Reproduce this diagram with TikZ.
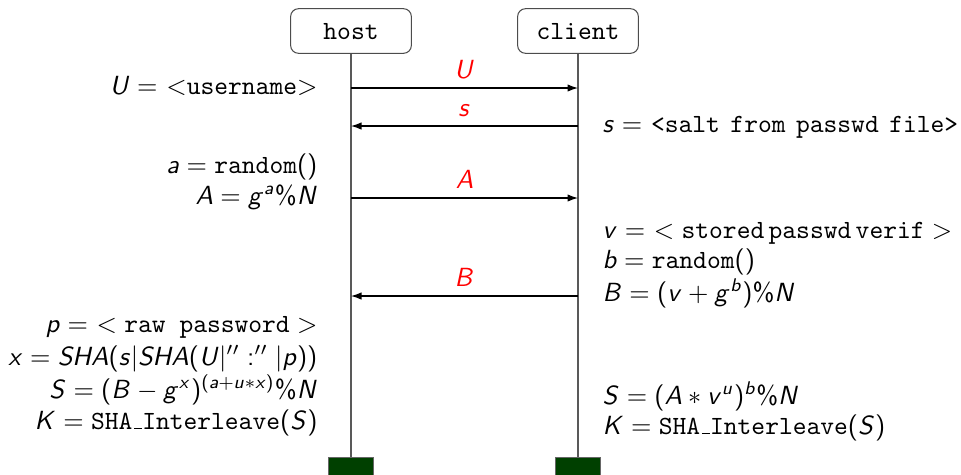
\documentclass[tikz,border=0pt]{standalone}
\usepackage[OT1]{fontenc}
\renewcommand{\ttdefault}{cmtt}
\usetikzlibrary{arrows.meta}

% sans serif math, as in slides
\DeclareSymbolFont{operators}{OT1}{cmss}{m}{n}
\DeclareSymbolFont{sfletters}{OT1}{cmss}{m}{it}
\makeatletter
\def\sfletter#1{\DeclareMathSymbol{#1}{\mathalpha}{sfletters}{`#1}}
\@tfor\next:=abgpsuvxABHKNSU\do{\expandafter\sfletter\expandafter{\next}}
\makeatother

\begin{document}
\begin{tikzpicture}[x=0.381pt, y=-0.381pt,
    actor/.style={draw=black!70, rounded corners=3pt, minimum width=46pt,
      minimum height=17pt, font=\ttfamily},
    lifeend/.style={draw=black!60, fill=green!25!black, minimum width=17.5pt,
      minimum height=8pt, inner sep=0pt},
    lifeline/.style={black!65},
    msg/.style={-{Latex[length=4pt, width=2.8pt]}, black},
    msglabel/.style={midway, above, text=red},
    note/.style={inner sep=0pt}]

  \useasboundingbox (0,0) rectangle (961,474);

  % ────────────────────────────────────────────────────────────────────
  % Actors and lifelines
  % ────────────────────────────────────────────────────────────────────
  \node[actor] (host)   at (351,31) {host};
  \node[actor] (client) at (578,31) {client};

  \node[lifeend, anchor=north] (hostend)   at (351,457) {};
  \node[lifeend, anchor=north] (clientend) at (578,457) {};

  \draw[lifeline] (host)   -- (hostend);
  \draw[lifeline] (client) -- (clientend);

  % ────────────────────────────────────────────────────────────────────
  % Messages
  % ────────────────────────────────────────────────────────────────────
  \coordinate (hU) at (351,88);  \coordinate (cU) at (578,88);
  \coordinate (hs) at (351,126); \coordinate (cs) at (578,126);
  \coordinate (hA) at (351,198); \coordinate (cA) at (578,198);
  \coordinate (hB) at (351,296); \coordinate (cB) at (578,296);

  \draw[msg] (hU) -- (cU) node[msglabel] {$U$};
  \draw[msg] (cs) -- (hs) node[msglabel] {$s$};
  \draw[msg] (hA) -- (cA) node[msglabel] {$A$};
  \draw[msg] (cB) -- (hB) node[msglabel] {$B$};

  % ────────────────────────────────────────────────────────────────────
  % Host side computations
  % ────────────────────────────────────────────────────────────────────
  \node[note, anchor=base east] (hostU) at (318,94)  {$U = $ $<$\texttt{username}$>$};
  \node[note, anchor=base east] (hosta) at (318,173) {$a = \texttt{random}()$};
  \node[note, anchor=base east] (hostA) at (318,204) {$A = g^a\%N$};

  \node[note, anchor=base east] (hostp) at (318,332) {$p = \ <\texttt{raw password}>$};
  \node[note, anchor=base east] (hostx) at (318,365) {$x = SHA(s|SHA(U|'':''|p))$};
  \node[note, anchor=base east] (hostS) at (318,398) {$S = (B - g^x)^{(a+u*x)}\%N$};
  \node[note, anchor=base east] (hostK) at (318,429) {$K = \texttt{SHA\_Interleave}(S)$};

  % ────────────────────────────────────────────────────────────────────
  % Client side computations
  % ────────────────────────────────────────────────────────────────────
  \node[note, anchor=base west] (clients) at (602,132)
    {$s = $ \texttt{<salt\hspace{4pt}from\hspace{4pt}passwd\hspace{4pt}file>}};
  \node[note, anchor=base west] (clientv) at (602,238)
    {$v = \ <\mathtt{stored\,passwd\,verif}>$};
  \node[note, anchor=base west] (clientb) at (602,268) {$b = \texttt{random}()$};
  \node[note, anchor=base west] (clientB) at (602,301) {$B = (v + g^b)\%N$};

  \node[note, anchor=base west] (clientS) at (602,404) {$S = (A * v^u)^b\%N$};
  \node[note, anchor=base west] (clientK) at (602,434) {$K = \texttt{SHA\_Interleave}(S)$};

\end{tikzpicture}
\end{document}
